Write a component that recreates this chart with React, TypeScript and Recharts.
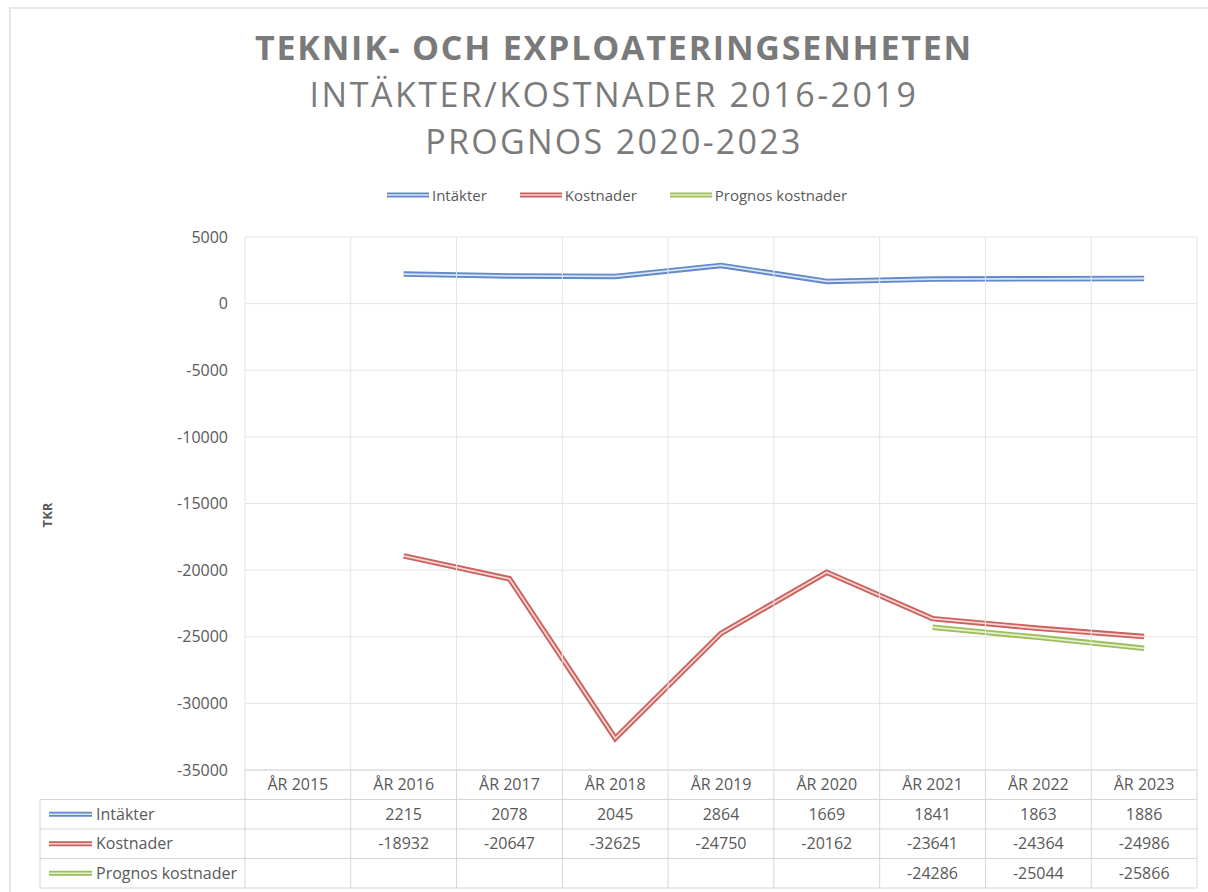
import { CartesianGrid, Line, LineChart, XAxis, YAxis } from 'recharts'

const years = ['ÅR 2015', 'ÅR 2016', 'ÅR 2017', 'ÅR 2018', 'ÅR 2019', 'ÅR 2020', 'ÅR 2021', 'ÅR 2022', 'ÅR 2023']
const intakter = [null, 2215, 2078, 2045, 2864, 1669, 1841, 1863, 1886]
const kostnader = [null, -18932, -20647, -32625, -24750, -20162, -23641, -24364, -24986]
const prognos = [null, null, null, null, null, null, -24286, -25044, -25866]
const yTicks = [5000, 0, -5000, -10000, -15000, -20000, -25000, -30000, -35000]

const series = [
  { key: 'intakter', label: 'Intäkter', values: intakter, dark: '#6389c8', light: '#d5e4f6' },
  { key: 'kostnader', label: 'Kostnader', values: kostnader, dark: '#c9625f', light: '#f8d3d1' },
  { key: 'prognos', label: 'Prognos kostnader', values: prognos, dark: '#9dbe5f', light: '#e4efc8' },
]

const rows = years.map((y, i) => ({
  year: y,
  intakter: intakter[i],
  kostnader: kostnader[i],
  prognos: prognos[i],
}))

const W = 1208
const H = 892
const PLOT_LEFT = 245
const PLOT_RIGHT = 1197
const PLOT_TOP = 237
const PLOT_BOTTOM = 770
const ROW_H = 29.5
const TABLE_LEFT = 40
const TABLE_BOTTOM = PLOT_BOTTOM + ROW_H * 4
const BAND = (PLOT_RIGHT - PLOT_LEFT) / years.length
const TEXT = '#595959'
const GRID = '#e4e4e4'
const TABLE_LINE = '#d6d6d6'

function DoubleIcon(p: { x: number; y: number; w: number; dark: string; light: string }) {
  return (
    <g>
      <line x1={p.x} x2={p.x + p.w} y1={p.y} y2={p.y} stroke={p.dark} strokeWidth={5} />
      <line x1={p.x} x2={p.x + p.w} y1={p.y} y2={p.y} stroke={p.light} strokeWidth={1.6} />
    </g>
  )
}

function TableColumn(p: any) {
  const x = p.x ?? 0
  const i = typeof p.index === 'number' ? p.index : 0
  const last = i === years.length - 1
  const fmt = (v: number | null) => (v === null ? '' : String(v))
  return (
    <g>
      {i === 0 && (
        <g>
          <line x1={PLOT_LEFT} x2={PLOT_RIGHT} y1={PLOT_BOTTOM} y2={PLOT_BOTTOM} stroke={TABLE_LINE} />
          {[1, 2, 3, 4].map((r) => (
            <line
              key={r}
              x1={TABLE_LEFT}
              x2={PLOT_RIGHT}
              y1={PLOT_BOTTOM + ROW_H * r}
              y2={PLOT_BOTTOM + ROW_H * r}
              stroke={TABLE_LINE}
            />
          ))}
          <line x1={TABLE_LEFT} x2={TABLE_LEFT} y1={PLOT_BOTTOM + ROW_H} y2={TABLE_BOTTOM} stroke={TABLE_LINE} />
          {series.map((s, r) => {
            const cy = PLOT_BOTTOM + ROW_H * (r + 1.5)
            return (
              <g key={s.key}>
                <DoubleIcon x={49} y={cy} w={43} dark={s.dark} light={s.light} />
                <text x={96} y={cy} dy="0.35em" fill={TEXT} fontSize={16}>
                  {s.label}
                </text>
              </g>
            )
          })}
        </g>
      )}
      <line x1={x - BAND / 2} x2={x - BAND / 2} y1={PLOT_TOP} y2={PLOT_BOTTOM} stroke={GRID} />
      <line x1={x - BAND / 2} x2={x - BAND / 2} y1={PLOT_BOTTOM} y2={TABLE_BOTTOM} stroke={TABLE_LINE} />
      {last && (
        <g>
          <line x1={x + BAND / 2} x2={x + BAND / 2} y1={PLOT_TOP} y2={PLOT_BOTTOM} stroke={GRID} />
          <line x1={x + BAND / 2} x2={x + BAND / 2} y1={PLOT_BOTTOM} y2={TABLE_BOTTOM} stroke={TABLE_LINE} />
        </g>
      )}
      <text x={x} y={PLOT_BOTTOM + ROW_H / 2} dy="0.35em" textAnchor="middle" fill={TEXT} fontSize={16}>
        {years[i]}
      </text>
      {series.map((s, r) => (
        <text
          key={s.key}
          x={x}
          y={PLOT_BOTTOM + ROW_H * (r + 1.5)}
          dy="0.35em"
          textAnchor="middle"
          fill={TEXT}
          fontSize={16}
        >
          {fmt(s.values[i])}
        </text>
      ))}
    </g>
  )
}

function LegendItem(p: { label: string; dark: string; light: string }) {
  return (
    <div style={{ display: 'flex', alignItems: 'center', gap: 3 }}>
      <svg width={42} height={8}>
        <line x1={0} x2={42} y1={4} y2={4} stroke={p.dark} strokeWidth={5} />
        <line x1={0} x2={42} y1={4} y2={4} stroke={p.light} strokeWidth={1.6} />
      </svg>
      <span>{p.label}</span>
    </div>
  )
}

export default function App() {
  return (
    <div
      style={{
        position: 'relative',
        width: W,
        height: H,
        background: '#fff',
        fontFamily: '"Open Sans", sans-serif',
        overflow: 'hidden',
      }}
    >
      <style>{'body{margin:0}'}</style>
      <div
        style={{
          position: 'absolute',
          left: 9,
          top: 7,
          width: W,
          height: H,
          borderLeft: '2px solid #e8e8e8',
          borderTop: '2px solid #e8e8e8',
        }}
      />
      <div
        style={{
          position: 'absolute',
          left: 0,
          top: 24,
          width: W + 20,
          textAlign: 'center',
          color: '#7a7a7a',
          fontSize: 34,
          lineHeight: '47px',
        }}
      >
        <div style={{ fontWeight: 700, letterSpacing: 1.8 }}>TEKNIK- OCH EXPLOATERINGSENHETEN</div>
        <div style={{ letterSpacing: 2.5 }}>INTÄKTER/KOSTNADER 2016-2019</div>
        <div style={{ letterSpacing: 2.3 }}>PROGNOS 2020-2023</div>
      </div>
      <div
        style={{
          position: 'absolute',
          left: 0,
          top: 185,
          width: W + 26,
          display: 'flex',
          justifyContent: 'center',
          gap: 33,
          color: TEXT,
          fontSize: 15,
          lineHeight: '20px',
        }}
      >
        {series.map((s) => (
          <LegendItem key={s.key} label={s.label} dark={s.dark} light={s.light} />
        ))}
      </div>
      <div
        style={{
          position: 'absolute',
          left: 47 - 20,
          top: 515 - 10,
          width: 40,
          height: 20,
          lineHeight: '20px',
          textAlign: 'center',
          transform: 'rotate(-90deg)',
          color: TEXT,
          fontSize: 13,
          fontWeight: 700,
        }}
      >
        TKR
      </div>
      <div style={{ position: 'absolute', left: 0, top: 0 }}>
        <LineChart
          width={W}
          height={H}
          data={rows}
          margin={{ top: PLOT_TOP, right: W - PLOT_RIGHT, bottom: 0, left: 0 }}
        >
          <CartesianGrid stroke={GRID} vertical={false} />
          <XAxis
            dataKey="year"
            scale="point"
            padding={{ left: BAND / 2, right: BAND / 2 }}
            height={H - PLOT_BOTTOM}
            axisLine={false}
            tickLine={false}
            interval={0}
            tick={(p: any) => <TableColumn {...p} />}
          />
          <YAxis
            width={PLOT_LEFT}
            domain={[-35000, 5000]}
            ticks={yTicks}
            axisLine={false}
            tickLine={false}
            tickMargin={11}
            tick={{ fill: TEXT, fontSize: 16 }}
          />
          {series.map((s) => (
            <Line
              key={s.key + '-outer'}
              dataKey={s.key}
              stroke={s.dark}
              strokeWidth={5.5}
              dot={false}
              activeDot={false}
              isAnimationActive={false}
              legendType="none"
            />
          ))}
          {series.map((s) => (
            <Line
              key={s.key + '-inner'}
              dataKey={s.key}
              stroke={s.light}
              strokeWidth={1.8}
              dot={false}
              activeDot={false}
              isAnimationActive={false}
              legendType="none"
            />
          ))}
        </LineChart>
      </div>
    </div>
  )
}
